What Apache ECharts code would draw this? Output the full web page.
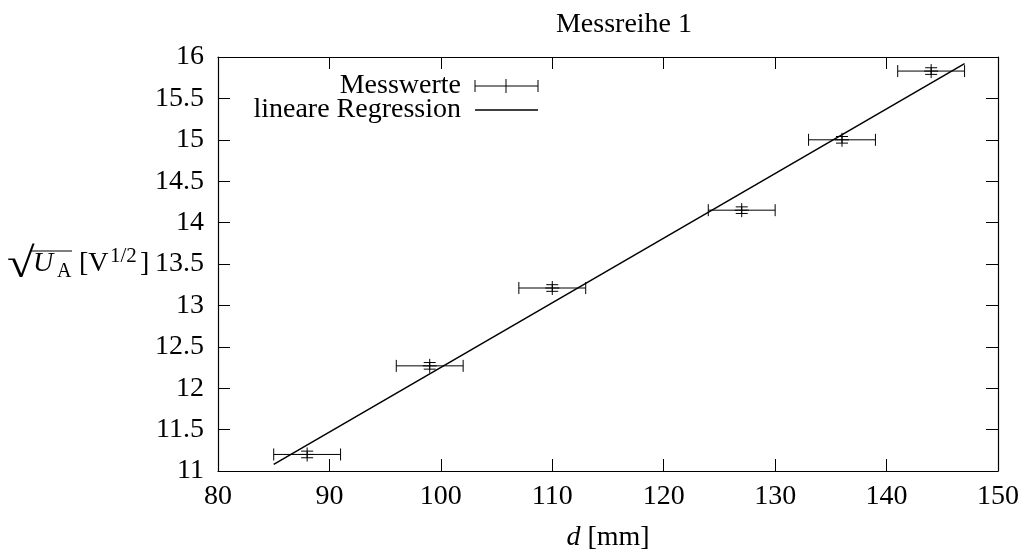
<!DOCTYPE html>
<html>
<head>
<meta charset="utf-8">
<script src="https://cdn.jsdelivr.net/npm/echarts@6/dist/echarts.min.js"></script>
<style>html,body{margin:0;padding:0;background:#fff}#chart{width:1028px;height:553px}</style>
</head>
<body>
<div id="chart"></div>
<script>
// Data
const dValues  = [88, 99, 110, 127, 136, 144];          // d [mm]
const uValues  = [11.2, 12.27, 13.21, 14.15, 15.0, 15.83]; // sqrt(U_A) [V^1/2]
const dErrors  = [3, 3, 3, 3, 3, 3];
const uErrors  = [0.04, 0.04, 0.04, 0.04, 0.04, 0.04];
const regD     = [85, 147];
const regU     = [11.08, 15.92];
const xTicks   = [80, 90, 100, 110, 120, 130, 140, 150];
const yTicks   = [11, 11.5, 12, 12.5, 13, 13.5, 14, 14.5, 15, 15.5, 16];
const titleText = 'Messreihe 1';
const legendLabels = ['Messwerte', 'lineare Regression'];

const FONT = '"Liberation Serif", "DejaVu Serif", serif';
const FS = 28;
const CAP = 6, MARK = 7;

const errData = dValues.map((d, i) => [d, uValues[i], dErrors[i], uErrors[i]]);
const regData = regD.map((d, i) => [d, regU[i]]);

function renderErr(params, api) {
  const x = api.value(0), y = api.value(1), dx = api.value(2), dy = api.value(3);
  const c = api.coord([x, y]);
  const l = api.coord([x - dx, y]);
  const r = api.coord([x + dx, y]);
  const t = api.coord([x, y + dy]);
  const b = api.coord([x, y - dy]);
  const st = { stroke: '#000', lineWidth: 1 };
  const line = (x1, y1, x2, y2) => ({ type: 'line', shape: { x1, y1, x2, y2 }, style: st });
  return {
    type: 'group',
    children: [
      line(l[0], c[1], r[0], c[1]),
      line(l[0], c[1] - CAP, l[0], c[1] + CAP),
      line(r[0], c[1] - CAP, r[0], c[1] + CAP),
      line(c[0], t[1], c[0], b[1]),
      line(c[0] - CAP, t[1], c[0] + CAP, t[1]),
      line(c[0] - CAP, b[1], c[0] + CAP, b[1]),
      line(c[0] - MARK, c[1], c[0] + MARK, c[1]),
      line(c[0], c[1] - MARK, c[0], c[1] + MARK)
    ]
  };
}

const axisCommon = {
  axisLine: { show: true, lineStyle: { color: '#000', width: 1.2 } },
  axisTick: { show: true, inside: true, length: 12, lineStyle: { color: '#000', width: 1 } },
  splitLine: { show: false }
};

const chart = echarts.init(document.getElementById('chart'), null, { renderer: 'canvas' });

const lx = 475, rx = 538, cx = 506, y1 = 86, y2 = 110;
const ln = (x1, yA, x2, yB, w) => ({ type: 'line', shape: { x1: x1, y1: yA, x2: x2, y2: yB }, style: { stroke: '#000', lineWidth: w || 1 } });
const legendGraphic = [
  { type: 'text', x: 461, y: y1,
    style: { text: legendLabels[0], font: FS + 'px ' + FONT, fill: '#000', align: 'right', verticalAlign: 'middle' } },
  ln(lx, y1, rx, y1),
  ln(lx, y1 - CAP, lx, y1 + CAP),
  ln(rx, y1 - CAP, rx, y1 + CAP),
  ln(cx, y1 - MARK, cx, y1 + MARK),
  { type: 'text', x: 461, y: y2,
    style: { text: legendLabels[1], font: FS + 'px ' + FONT, fill: '#000', align: 'right', verticalAlign: 'middle' } },
  ln(lx, y2, rx, y2, 1.5)
];

const yNameGraphic = [
  { type: 'text', x: 7, y: 266, scaleX: 1.2, style: { text: '√', font: '42px ' + FONT, fill: '#000', verticalAlign: 'middle' } },
  ln(30, 251, 72, 251, 1.2),
  { type: 'text', x: 33, y: 264, style: { text: 'U', font: 'italic ' + FS + 'px ' + FONT, fill: '#000', verticalAlign: 'middle' } },
  { type: 'text', x: 57, y: 272, style: { text: 'A', font: '20px ' + FONT, fill: '#000', verticalAlign: 'middle' } },
  { type: 'text', x: 79, y: 264, style: { text: '[V', font: FS + 'px ' + FONT, fill: '#000', verticalAlign: 'middle' } },
  { type: 'text', x: 110, y: 256, style: { text: '1/2', font: '21px ' + FONT, fill: '#000', verticalAlign: 'middle' } },
  { type: 'text', x: 140, y: 264, style: { text: ']', font: FS + 'px ' + FONT, fill: '#000', verticalAlign: 'middle' } }
];

chart.setOption({
  animation: false,
  backgroundColor: '#fff',
  title: {
    text: titleText, left: 619, top: 6, textAlign: 'center',
    textStyle: { fontFamily: FONT, fontSize: FS, fontWeight: 'normal', color: '#000' }
  },
  grid: { left: 218, right: 30, top: 57, bottom: 82, containLabel: false, outerBoundsMode: 'none' },
  xAxis: [
    Object.assign({}, axisCommon, {
      type: 'value', position: 'bottom', min: xTicks[0], max: xTicks[xTicks.length - 1], interval: 10,
      axisLabel: { color: '#000', fontFamily: FONT, fontSize: FS, margin: 12 },
      name: '{i|d} [mm]', nameLocation: 'middle', nameGap: 53,
      nameTextStyle: { fontFamily: FONT, fontSize: FS, color: '#000',
        rich: { i: { fontFamily: FONT, fontSize: FS, fontStyle: 'italic', color: '#000' } } }
    }),
    Object.assign({}, axisCommon, {
      type: 'value', position: 'top', min: xTicks[0], max: xTicks[xTicks.length - 1], interval: 10,
      axisLabel: { show: false }
    })
  ],
  yAxis: [
    Object.assign({}, axisCommon, {
      type: 'value', position: 'left', min: yTicks[0], max: yTicks[yTicks.length - 1], interval: 0.5,
      axisLabel: { color: '#000', fontFamily: FONT, fontSize: FS, margin: 14 }
    }),
    Object.assign({}, axisCommon, {
      type: 'value', position: 'right', min: yTicks[0], max: yTicks[yTicks.length - 1], interval: 0.5,
      axisLabel: { show: false }
    })
  ],
  graphic: legendGraphic.concat(yNameGraphic),
  series: [
    {
      name: legendLabels[1], type: 'line', xAxisIndex: 0, yAxisIndex: 0,
      data: regData, showSymbol: false, symbol: 'none',
      lineStyle: { color: '#000', width: 1.5 }, z: 3
    },
    {
      name: legendLabels[0], type: 'custom', xAxisIndex: 0, yAxisIndex: 0,
      data: errData, renderItem: renderErr, z: 4
    }
  ]
});
</script>
</body>
</html>
